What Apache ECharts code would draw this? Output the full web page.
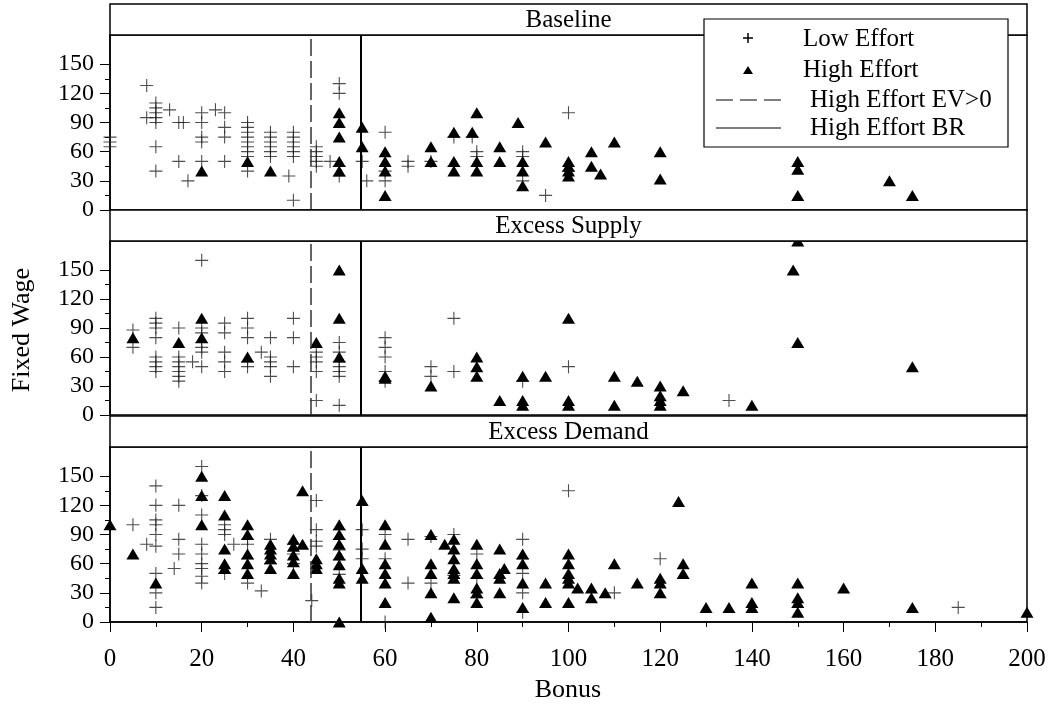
<!DOCTYPE html>
<html><head><meta charset="utf-8">
<script src="https://cdn.jsdelivr.net/npm/echarts@6/dist/echarts.min.js"></script>
<style>html,body{margin:0;padding:0;background:#fff}#c{width:1053px;height:713px}</style>
</head><body><div id="c"></div>
<script>
var panelNames = ['Baseline', 'Excess Supply', 'Excess Demand'];
var yTicks = [0, 30, 60, 90, 120, 150];
var yMinorTicks = [15, 45, 75, 105, 135];
var evLine = 43.75;
var brLine = 54.6;

var baselineLow = [[0,75],[0,70],[0,65],[8,128],[8,95],[10,110],[10,105],[10,100],[10,95],[10,90],[10,65],[10,40],
[13,103],[15,90],[16,90],[15,50],[17,30],[20,100],[20,90],[20,75],[20,70],[20,50],[23,103],
[25,100],[25,85],[25,75],[25,50],[30,90],[30,85],[30,80],[30,75],[30,70],[30,65],[30,60],[30,55],[30,40],
[35,80],[35,75],[35,70],[35,65],[35,60],[35,55],[40,80],[40,75],[40,70],[40,65],[40,60],[40,55],[39,35],[40,10],
[45,65],[45,60],[45,55],[45,50],[45,45],[48,50],[50,130],[50,120],[50,45],[50,35],
[55,50],[56,30],[60,80],[60,40],[60,30],[65,50],[65,45],[70,50],[75,75],[75,45],[79,75],[80,60],[80,55],
[90,60],[90,55],[90,30],[95,15],[100,100],[100,40]];
var baselineHigh = [[20,40],[30,50],[35,40],[50,100],[50,90],[50,75],[50,50],[50,40],[55,85],[55,65],
[60,60],[60,50],[60,40],[60,15],[70,65],[70,50],[75,80],[75,50],[75,40],[79,80],[80,100],[80,50],[80,40],
[85,65],[85,50],[89,90],[90,50],[90,40],[90,25],[95,70],[100,50],[100,45],[100,40],[100,35],[105,60],[105,45],
[107,37],[110,70],[120,60],[120,32],[150,50],[150,42],[150,15],[170,30],[175,15]];

var supplyLow = [[5,88],[5,70],[10,100],[10,95],[10,90],[10,80],[10,60],[10,55],[10,50],[10,45],
[15,90],[15,60],[15,55],[15,50],[15,45],[15,40],[15,35],[18,55],
[20,160],[20,90],[20,85],[20,75],[20,70],[20,65],[20,50],[25,95],[25,85],[25,65],[25,55],[25,45],
[30,100],[30,90],[30,80],[30,55],[30,50],[33,65],[35,80],[35,60],[35,55],[35,50],[35,40],
[40,100],[40,80],[40,50],[45,65],[45,60],[45,55],[45,45],[45,15],
[50,75],[50,65],[50,55],[50,50],[50,45],[50,40],[50,10],[60,80],[60,70],[60,60],[60,45],[60,35],
[70,50],[70,40],[75,100],[75,45],[90,35],[100,50],[135,15]];
var supplyHigh = [[5,80],[15,75],[20,100],[20,80],[30,60],[45,75],[50,150],[50,100],[50,60],[60,40],[60,38],
[70,30],[80,60],[80,50],[80,40],[85,15],[90,40],[90,15],[90,10],[95,40],[100,100],[100,15],[100,10],
[110,40],[110,10],[115,35],[120,30],[120,20],[120,15],[120,10],[125,25],[140,10],
[149,150],[150,180],[150,75],[175,50]];

var demandLow = [[5,100],[8,80],[10,140],[10,120],[10,105],[10,100],[10,90],[10,78],[10,50],[10,30],[10,15],
[14,55],[15,120],[15,85],[15,70],[20,160],[20,130],[20,110],[20,80],[20,70],[20,60],[20,55],[20,47],[20,40],
[25,100],[25,95],[25,90],[25,50],[27,80],[30,85],[30,80],[30,65],[30,40],[33,32],[35,85],[35,60],
[40,80],[40,70],[40,60],[44,22],[45,125],[45,95],[45,83],[45,78],[50,95],[50,85],[50,74],[50,64],[50,49],
[55,95],[55,75],[55,65],[60,90],[60,65],[60,0],[65,85],[65,40],[70,88],[70,40],[75,90],[75,48],
[80,70],[80,45],[80,25],[90,85],[90,65],[90,50],[90,30],[90,10],[100,135],[110,30],[120,65],[185,15]];
var demandHigh = [[0,100],[5,70],[10,40],[20,150],[20,130],[20,100],[25,130],[25,110],[25,75],[25,60],[25,55],
[30,100],[30,90],[30,70],[30,60],[30,50],[35,80],[35,75],[35,70],[35,65],[35,55],
[40,85],[40,78],[40,69],[40,62],[40,50],[42,80],[42,135],[45,65],[45,60],[45,55],
[50,100],[50,90],[50,80],[50,69],[50,59],[50,45],[50,40],[50,0],[55,125],[55,55],[55,45],
[60,100],[60,80],[60,60],[60,50],[60,40],[60,20],[70,90],[70,60],[70,50],[70,30],[70,5],[73,80],
[75,85],[75,75],[75,65],[75,55],[75,50],[75,45],[75,25],[80,80],[80,60],[80,50],[80,35],[80,30],[80,20],
[85,75],[85,50],[85,45],[85,30],[86,55],[90,70],[90,60],[90,40],[90,15],[95,40],[95,20],
[100,70],[100,60],[100,50],[100,45],[100,40],[100,20],[102,35],[105,35],[105,25],[108,30],[110,60],
[115,40],[120,45],[120,40],[120,30],[124,124],[125,60],[125,50],[130,15],[135,15],
[140,40],[140,20],[140,15],[150,40],[150,25],[150,20],[150,10],[160,35],[175,15],[200,10]];

var lowSets = [baselineLow, supplyLow, demandLow];
var highSets = [baselineHigh, supplyHigh, demandHigh];

var FONT = 'Liberation Serif';
var L = 110, R = 26, W = 1053 - L - R;
var grids = [{top: 35, height: 175}, {top: 241, height: 174}, {top: 447, height: 175}];
var stripH = 31;
var PLUS = 'path://M0,6L12,6M6,0L6,12';

var option = {
  backgroundColor: '#fff',
  animation: false,
  grid: grids.map(function (g) {
    return {left: L, width: W, top: g.top, height: g.height, show: true, borderColor: '#000', borderWidth: 1.5, backgroundColor: 'transparent'};
  }),
  xAxis: grids.map(function (g, i) {
    var last = i === 2;
    return {
      type: 'value', gridIndex: i, min: 0, max: 200, interval: 20,
      axisLine: {show: last, onZero: false, lineStyle: {color: '#000', width: 1.5}},
      axisTick: {show: last, length: 10, lineStyle: {color: '#000', width: 1}},
      minorTick: {show: last, splitNumber: 2, length: 5, lineStyle: {color: '#000', width: 1}},
      axisLabel: {show: last, margin: 25, color: '#000', fontFamily: FONT, fontSize: 25},
      splitLine: {show: false}
    };
  }),
  yAxis: grids.map(function (g, i) {
    return {
      type: 'value', gridIndex: i, min: 0, max: 180,
      axisLine: {show: true, lineStyle: {color: '#000', width: 1.5}},
      axisTick: {show: true, length: 10, customValues: yTicks, lineStyle: {color: '#000', width: 1}},
      axisLabel: {show: true, customValues: yTicks, margin: 16, color: '#000', fontFamily: FONT, fontSize: 24},
      splitLine: {show: false}
    };
  }).concat(grids.map(function (g, i) {
    return {
      type: 'value', gridIndex: i, min: 0, max: 180, position: 'left',
      axisLine: {show: false},
      axisTick: {show: true, length: 5, customValues: yMinorTicks, lineStyle: {color: '#000', width: 1}},
      axisLabel: {show: false},
      splitLine: {show: false}
    };
  })),
  series: [],
  graphic: []
};

for (var i = 0; i < 3; i++) {
  option.series.push({
    type: 'scatter', xAxisIndex: i, yAxisIndex: i, data: lowSets[i], clip: false,
    symbol: PLUS, symbolSize: 13,
    itemStyle: {color: 'rgba(0,0,0,0)', borderColor: '#222', borderWidth: 1.1},
    z: 3
  });
  option.series.push({
    type: 'scatter', xAxisIndex: i, yAxisIndex: i, data: highSets[i], clip: false,
    symbol: 'triangle', symbolSize: [13, 11],
    itemStyle: {color: '#000', opacity: 1},
    z: 4,
    markLine: {
      silent: true, symbol: 'none', label: {show: false}, animation: false,
      data: [
        {xAxis: evLine, lineStyle: {type: [17, 5], color: '#333', width: 1.5}},
        {xAxis: brLine, lineStyle: {type: 'solid', color: '#000', width: 2}}
      ]
    }
  });
  var g = grids[i];
  option.graphic.push({
    type: 'rect', z: 100, shape: {x: L, y: g.top - stripH, width: W, height: stripH},
    style: {fill: '#fff', stroke: '#000', lineWidth: 1.5}
  });
  option.graphic.push({
    type: 'text', z: 101, x: L + W / 2, y: g.top - stripH / 2 + 1,
    style: {text: panelNames[i], font: '25px "Liberation Serif"', fill: '#000', align: 'center', verticalAlign: 'middle'}
  });
}

// legend
var lx = 704, ly = 19;
option.graphic.push(
  {type: 'rect', z: 110, shape: {x: lx, y: ly, width: 304, height: 128}, style: {fill: '#fff', stroke: '#000', lineWidth: 1.2}},
  {type: 'polyline', z: 111, shape: {points: [[743, 38], [753, 38]]}, style: {stroke: '#000', lineWidth: 1.5}},
  {type: 'polyline', z: 111, shape: {points: [[748, 33], [748, 43]]}, style: {stroke: '#000', lineWidth: 1.5}},
  {type: 'text', z: 111, x: 803, y: 39, style: {text: 'Low Effort', font: '25px "Liberation Serif"', fill: '#000', verticalAlign: 'middle'}},
  {type: 'polygon', z: 111, shape: {points: [[748, 66], [743, 74], [753, 74]]}, style: {fill: '#000'}},
  {type: 'text', z: 111, x: 803, y: 70, style: {text: 'High Effort', font: '25px "Liberation Serif"', fill: '#000', verticalAlign: 'middle'}},
  {type: 'polyline', z: 111, shape: {points: [[716, 100], [781, 100]]}, style: {stroke: '#000', lineWidth: 1.2, lineDash: [17, 7]}},
  {type: 'text', z: 111, x: 810, y: 100, style: {text: 'High Effort EV>0', font: '25px "Liberation Serif"', fill: '#000', verticalAlign: 'middle'}},
  {type: 'polyline', z: 111, shape: {points: [[716, 128], [781, 128]]}, style: {stroke: '#000', lineWidth: 1.2}},
  {type: 'text', z: 111, x: 810, y: 128, style: {text: 'High Effort BR', font: '25px "Liberation Serif"', fill: '#000', verticalAlign: 'middle'}},
  {type: 'text', z: 111, x: 568, y: 690, style: {text: 'Bonus', font: '26px "Liberation Serif"', fill: '#000', align: 'center', verticalAlign: 'middle'}},
  {type: 'text', z: 111, x: 22, y: 330, rotation: Math.PI / 2, style: {text: 'Fixed Wage', font: '26px "Liberation Serif"', fill: '#000', align: 'center', verticalAlign: 'middle'}}
);

var chart = echarts.init(document.getElementById('c'), null, {renderer: 'canvas'});
chart.setOption(option);
</script>
</body></html>
